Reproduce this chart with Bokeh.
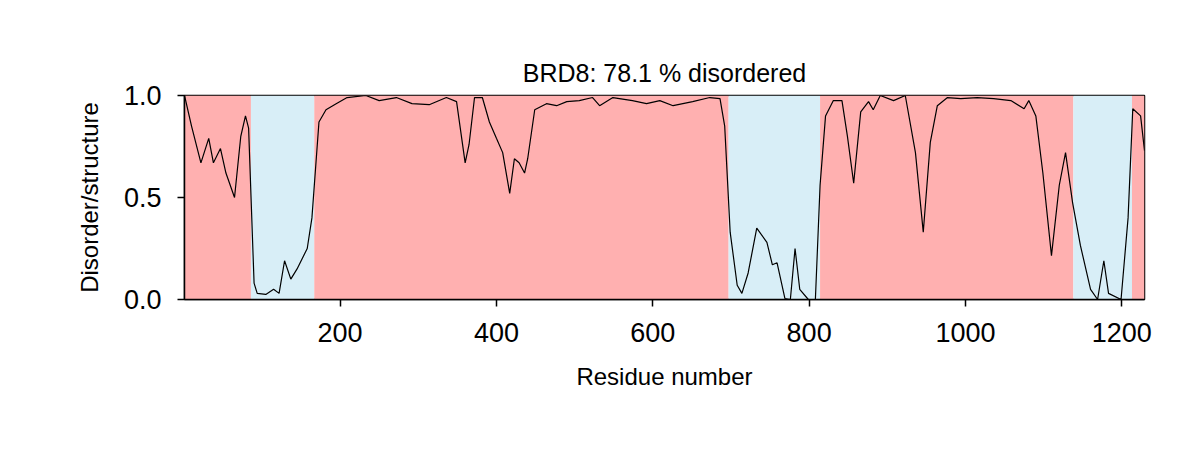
from bokeh.plotting import figure
from bokeh.models import FixedTicker, Range1d
from bokeh.embed import file_html
from bokeh.resources import INLINE

# residue positions and disorder score
residue = [1, 10, 22, 32, 38, 47, 54, 65, 73, 79, 83, 90, 94, 105, 115, 122, 129, 137, 145,
           158, 164, 173, 182, 195, 209, 233, 250, 272, 292, 314, 336, 349, 360, 365, 372,
           382, 391, 400, 408, 417, 423, 429, 436, 440, 449, 464, 477, 490, 506, 523, 532,
           549, 574, 592, 609, 626, 651, 673, 686, 692, 699, 708, 714, 722, 733, 746, 753,
           759, 769, 776, 782, 788, 799, 808, 814, 821, 831, 842, 849, 857, 866, 876, 882,
           891, 908, 923, 936, 946, 955, 964, 977, 994, 1015, 1036, 1058, 1075, 1081, 1090,
           1099, 1110, 1120, 1128, 1137, 1147, 1160, 1169, 1177, 1183, 1199, 1208, 1214,
           1224, 1229]
score = [1.0, 0.85, 0.67, 0.79, 0.67, 0.74, 0.62, 0.50, 0.80, 0.90, 0.84, 0.08, 0.03, 0.025,
         0.05, 0.03, 0.19, 0.10, 0.15, 0.25, 0.40, 0.87, 0.93, 0.96, 0.99, 1.0, 0.975, 0.99,
         0.96, 0.955, 0.99, 0.97, 0.67, 0.76, 0.99, 0.99, 0.87, 0.79, 0.72, 0.52, 0.69, 0.67,
         0.62, 0.69, 0.93, 0.96, 0.95, 0.97, 0.975, 0.99, 0.95, 0.99, 0.975, 0.96, 0.975,
         0.95, 0.97, 0.99, 0.985, 0.85, 0.33, 0.07, 0.03, 0.13, 0.35, 0.28, 0.17, 0.18,
         0.005, 0.0, 0.25, 0.05, 0.0, 0.0, 0.56, 0.90, 0.975, 0.975, 0.80, 0.57, 0.92, 0.97,
         0.93, 1.0, 0.975, 1.0, 0.72, 0.33, 0.77, 0.95, 0.99, 0.985, 0.99, 0.985, 0.975,
         0.935, 0.975, 0.90, 0.62, 0.215, 0.56, 0.72, 0.475, 0.265, 0.05, 0.0, 0.19, 0.03,
         0.0, 0.40, 0.935, 0.90, 0.73]

# region boundaries and type
region_start = [1, 86, 167, 697, 814, 1138, 1213]
region_end = [86, 167, 697, 814, 1138, 1213, 1229]
region_kind = ["disordered", "structured", "disordered", "structured",
               "disordered", "structured", "disordered"]
kind_colors = {"disordered": "#ffb0b0", "structured": "#d8eef7"}

FONT = "Liberation Sans"

p = figure(width=1184, height=434, output_backend="svg", toolbar_location=None,
           x_range=Range1d(1, 1229), y_range=Range1d(0, 1.0),
           min_border_left=184, min_border_right=40, min_border_top=95,
           min_border_bottom=135, title="BRD8: 78.1 % disordered")

p.quad(left=region_start, right=region_end, bottom=0, top=1,
       fill_color=[kind_colors[k] for k in region_kind], line_color=None)
p.line(residue, score, line_color="black", line_width=1.2)

p.title.align = "center"
p.title.text_font = FONT
p.title.text_font_size = "25px"
p.title.text_font_style = "normal"
p.title.text_color = "black"
p.title.standoff = 18

p.xgrid.visible = False
p.ygrid.visible = False
p.outline_line_color = "black"
p.outline_line_width = 1.5

p.xaxis.ticker = FixedTicker(ticks=[200, 400, 600, 800, 1000, 1200])
p.yaxis.ticker = FixedTicker(ticks=[0.0, 0.5, 1.0])
p.yaxis.major_label_overrides = {0: "0.0", 0.5: "0.5", 1: "1.0"}
p.xaxis.axis_label = "Residue number"
p.yaxis.axis_label = "Disorder/structure"
for ax in (p.xaxis[0], p.yaxis[0]):
    ax.axis_line_width = 1.5
    ax.major_tick_line_width = 1.5
    ax.major_tick_out = 7
    ax.major_tick_in = 0
    ax.minor_tick_line_color = None
    ax.major_label_text_font = FONT
    ax.major_label_text_font_size = "27px"
    ax.major_label_text_color = "black"
    ax.major_label_standoff = 16
    ax.axis_label_text_font = FONT
    ax.axis_label_text_font_size = "24px"
    ax.axis_label_text_font_style = "normal"
    ax.axis_label_text_color = "black"
    ax.axis_label_standoff = 18

open("out.html", "w").write(file_html(p, INLINE))
